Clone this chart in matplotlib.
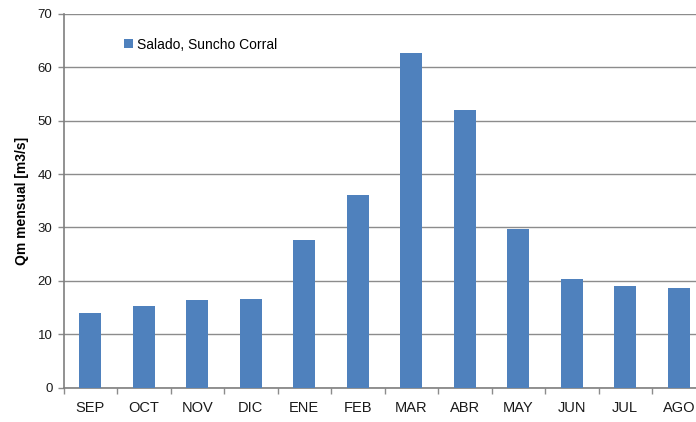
import numpy as np
import matplotlib
matplotlib.use("Agg")
import matplotlib.pyplot as plt

# Monthly mean discharge, Salado at Suncho Corral
months = ["SEP", "OCT", "NOV", "DIC", "ENE", "FEB", "MAR", "ABR", "MAY", "JUN", "JUL", "AGO"]
qm = [13.9, 15.3, 16.4, 16.6, 27.6, 36.1, 62.7, 52.0, 29.7, 20.3, 19.0, 18.6]
series_name = "Salado, Suncho Corral"

plt.rcParams["font.family"] = ["Liberation Sans", "DejaVu Sans"]

fig = plt.figure(figsize=(6.96, 4.22), dpi=100)
# the plot area runs past the right edge of the picture, as in the reference
ax = fig.add_axes([63.5 / 696, 34.5 / 422, 642 / 696, 373.5 / 422])

x = np.arange(len(months))
ax.bar(x, qm, width=0.41, color="#4F81BD", label=series_name, zorder=3)

ax.set_xlim(-0.5, len(months) - 0.5)
ax.set_ylim(0, 70)
ax.set_yticks(range(0, 71, 10))
ax.yaxis.grid(True, color="#8c8c8c", linewidth=1.0, zorder=0)

ax.set_xticks(x)
ax.set_xticklabels(months, fontsize=10.5, color="#1a1a1a")
ax.set_xticks(np.arange(-0.5, len(months), 1), minor=True)
ax.tick_params(axis="x", which="major", length=0, pad=10)
ax.tick_params(axis="x", which="minor", length=4, color="#8c8c8c", width=1)
ax.tick_params(axis="y", length=4, color="#8c8c8c", width=1, labelsize=9.5, labelcolor="#1a1a1a", pad=4)

for side in ["top", "right"]:
    ax.spines[side].set_visible(False)
for side in ["left", "bottom"]:
    ax.spines[side].set_color("#7f7f7f")
    ax.spines[side].set_linewidth(1.2)

ax.set_ylabel("Qm mensual [m3/s]", fontsize=10, fontweight="bold", labelpad=6)

ax.legend(loc="upper left", bbox_to_anchor=(0.075, 0.97), frameon=False,
          fontsize=10, handlelength=0.65, handleheight=0.65, handletextpad=0.3)

fig.savefig("out.png", dpi=100)
